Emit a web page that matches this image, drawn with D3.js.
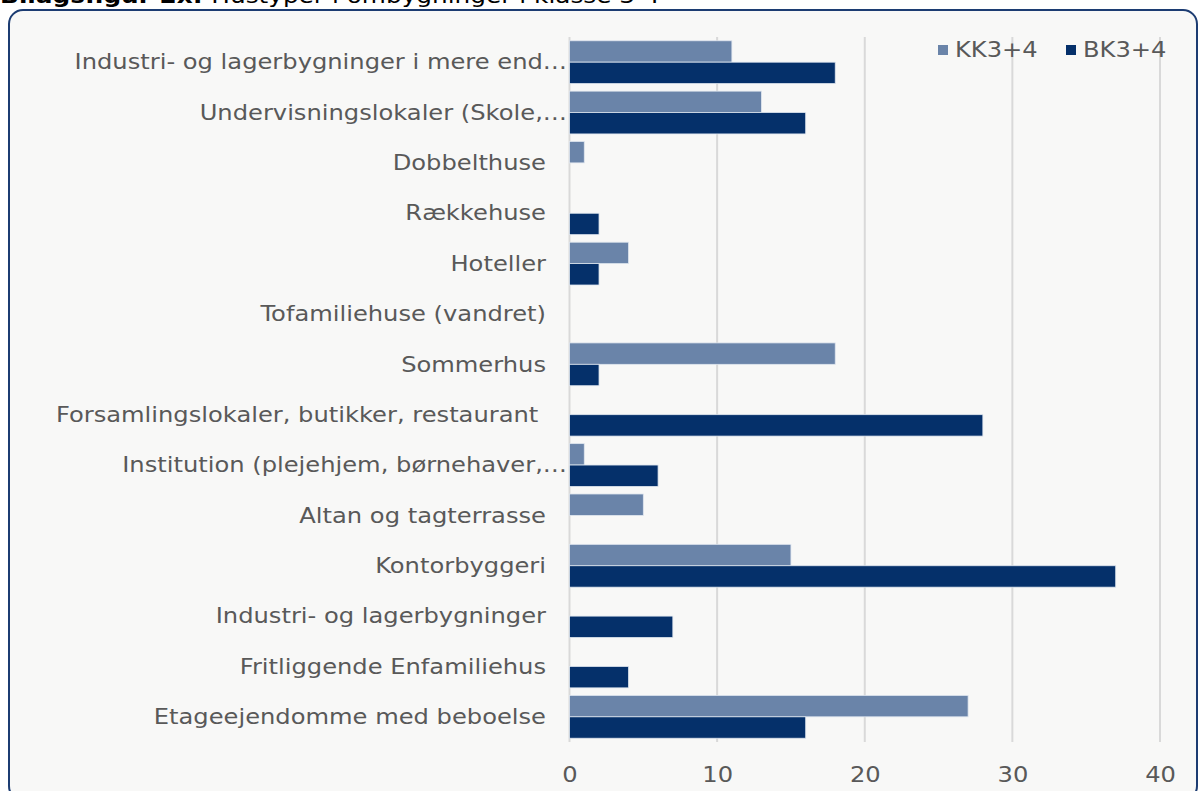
<!DOCTYPE html>
<html><head><meta charset="utf-8">
<script src="https://cdn.jsdelivr.net/npm/d3@7"></script>
<style>
html,body{margin:0;padding:0;background:#fff;overflow:hidden;}
svg{display:block;}
</style></head>
<body>
<script>
const categories = [
  "Industri- og lagerbygninger i mere end…",
  "Undervisningslokaler (Skole,…",
  "Dobbelthuse",
  "Rækkehuse",
  "Hoteller",
  "Tofamiliehuse (vandret)",
  "Sommerhus",
  "Forsamlingslokaler, butikker, restaurant ",
  "Institution (plejehjem, børnehaver,…",
  "Altan og tagterrasse",
  "Kontorbyggeri",
  "Industri- og lagerbygninger",
  "Fritliggende Enfamiliehus",
  "Etageejendomme med beboelse"
];
const seriesNames = ["KK3+4", "BK3+4"];
const kkValues = [11, 13, 1, 0, 4, 0, 18, 0, 1, 5, 15, 0, 0, 27];
const bkValues = [18, 16, 0, 2, 2, 0, 2, 28, 6, 0, 37, 7, 4, 16];
const xTicks = [0, 10, 20, 30, 40];
const colors = ["#6a84a9", "#05306a"];

const W = 1199, H = 791;
const SX = 1.18;
const FS = 20.5;
const svg = d3.select("body").append("svg").attr("width", W).attr("height", H);
const font = "DejaVu Sans, Verdana, sans-serif";
const txt = "#595959";

// partially visible title (cut off at top edge as in reference)
const t = svg.append("text").attr("transform", `translate(0,3) scale(${SX},1)`)
  .attr("font-family", font).attr("font-size", 21).attr("fill", "#000");
t.append("tspan").attr("font-weight", "bold").text("Bilagsfigur 2x: ");
t.append("tspan").text("Hustyper i ombygninger i klasse 3-4");

// frame
svg.append("rect").attr("x", 9).attr("y", 10).attr("width", 1188).attr("height", 790)
  .attr("rx", 14).attr("ry", 14).attr("fill", "#f8f8f7")
  .attr("stroke", "#1c3c72").attr("stroke-width", 2);

const x = d3.scaleLinear().domain([0, 40]).range([569.5, 1160]);
const y = d3.scaleBand().domain(categories).range([37, 742]).paddingInner(0.15).paddingOuter(0.075);
const sub = d3.scaleBand().domain(seriesNames).range([0, y.bandwidth()]);

// gridlines
svg.append("g").selectAll("line").data(xTicks).join("line")
  .attr("x1", d => x(d)).attr("x2", d => x(d))
  .attr("y1", 37).attr("y2", 742)
  .attr("stroke", "#d9d9d9").attr("stroke-width", 2);

// bars
const data = [kkValues, bkValues];
data.forEach((vals, si) => {
  svg.append("g").selectAll("rect").data(vals).join("rect")
    .attr("x", x(0))
    .attr("y", (d, i) => y(categories[i]) + sub(seriesNames[si]))
    .attr("width", d => x(d) - x(0))
    .attr("height", sub.bandwidth())
    .attr("fill", colors[si])
    .attr("stroke", d => d > 0 ? "#dfe6ef" : "none")
    .attr("stroke-width", 0.8);
});

// category labels
svg.append("g").selectAll("text").data(categories).join("text")
  .attr("transform", d => `translate(${d.endsWith("…") ? 567 : 546},${y(d) + y.bandwidth() / 2}) scale(${SX},1)`)
  .attr("dy", "0.35em")
  .attr("text-anchor", "end")
  .attr("font-family", font).attr("font-size", FS).attr("fill", txt)
  .style("white-space", "pre")
  .text(d => d);

// x axis labels
const xAxis = d3.axisBottom(x).tickValues(xTicks).tickSize(0).tickPadding(0);
const ax = svg.append("g").attr("transform", "translate(0,775)").call(xAxis);
ax.select(".domain").remove();
ax.selectAll("text").attr("font-family", font).attr("font-size", FS).attr("fill", txt)
  .attr("dy", "0.35em").attr("y", 0).attr("transform", `scale(${SX},1)`);

// legend
const lg = svg.append("g");
const legX = [938, 1066];
seriesNames.forEach((n, i) => {
  lg.append("rect").attr("x", legX[i]).attr("y", 45).attr("width", 10).attr("height", 10)
    .attr("fill", colors[i]);
  lg.append("text").attr("transform", `translate(${legX[i] + 17},50) scale(${SX},1)`).attr("dy", "0.35em")
    .attr("font-family", font).attr("font-size", FS).attr("fill", txt).text(n);
});
</script>
</body></html>
